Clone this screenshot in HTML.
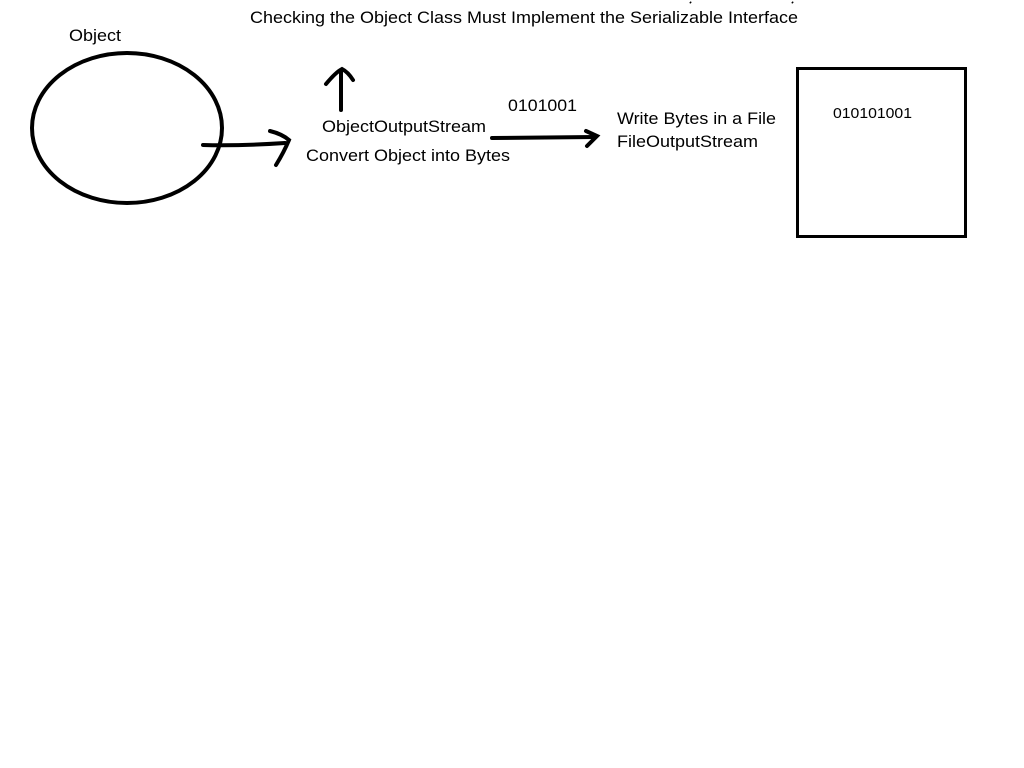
<!DOCTYPE html>
<html><head><meta charset="utf-8"><style>
html,body{margin:0;padding:0;background:#fff;}
svg{display:block;}
text{font-family:"Liberation Sans",Arial,sans-serif;fill:#000;}
</style></head><body>
<svg width="1024" height="768" viewBox="0 0 1024 768" xmlns="http://www.w3.org/2000/svg">
<rect width="1024" height="768" fill="#fff"/>
<text x="250" y="23" font-size="17" textLength="548" lengthAdjust="spacingAndGlyphs">Checking the Object Class Must Implement the Serializable Interface</text>
<text x="69" y="41" font-size="17" textLength="52" lengthAdjust="spacingAndGlyphs">Object</text>
<ellipse cx="127" cy="128" rx="95" ry="75" fill="none" stroke="#000" stroke-width="4"/>
<path d="M203 145 Q240 146 285 143" fill="none" stroke="#000" stroke-width="4" stroke-linecap="round"/>
<path d="M270 131 Q282 134 289 140 Q284 152 276 165" fill="none" stroke="#000" stroke-width="4" stroke-linecap="round"/>
<path d="M341 110 L341 71" fill="none" stroke="#000" stroke-width="4" stroke-linecap="round"/>
<path d="M326 84 Q336 72 342 69 Q348 72 353 80" fill="none" stroke="#000" stroke-width="4" stroke-linecap="round"/>
<text x="322" y="132" font-size="17" textLength="164" lengthAdjust="spacingAndGlyphs">ObjectOutputStream</text>
<text x="306" y="161" font-size="17" textLength="204" lengthAdjust="spacingAndGlyphs">Convert Object into Bytes</text>
<text x="508" y="111" font-size="17" textLength="69" lengthAdjust="spacingAndGlyphs">0101001</text>
<path d="M492 138 L595 137" fill="none" stroke="#000" stroke-width="4" stroke-linecap="round"/>
<path d="M586 131 L597 136 L587 146" fill="none" stroke="#000" stroke-width="4" stroke-linecap="round"/>
<text x="617" y="124" font-size="17" textLength="159" lengthAdjust="spacingAndGlyphs">Write Bytes in a File</text>
<text x="617" y="147" font-size="17" textLength="141" lengthAdjust="spacingAndGlyphs">FileOutputStream</text>
<rect x="797.5" y="68.5" width="168" height="168" fill="none" stroke="#000" stroke-width="3"/>
<text x="833" y="118" font-size="15" textLength="79" lengthAdjust="spacingAndGlyphs">010101001</text>
<path d="M690 2 l1 1 M792 2 l1 1" stroke="#000" stroke-width="2"/>
</svg>
</body></html>
